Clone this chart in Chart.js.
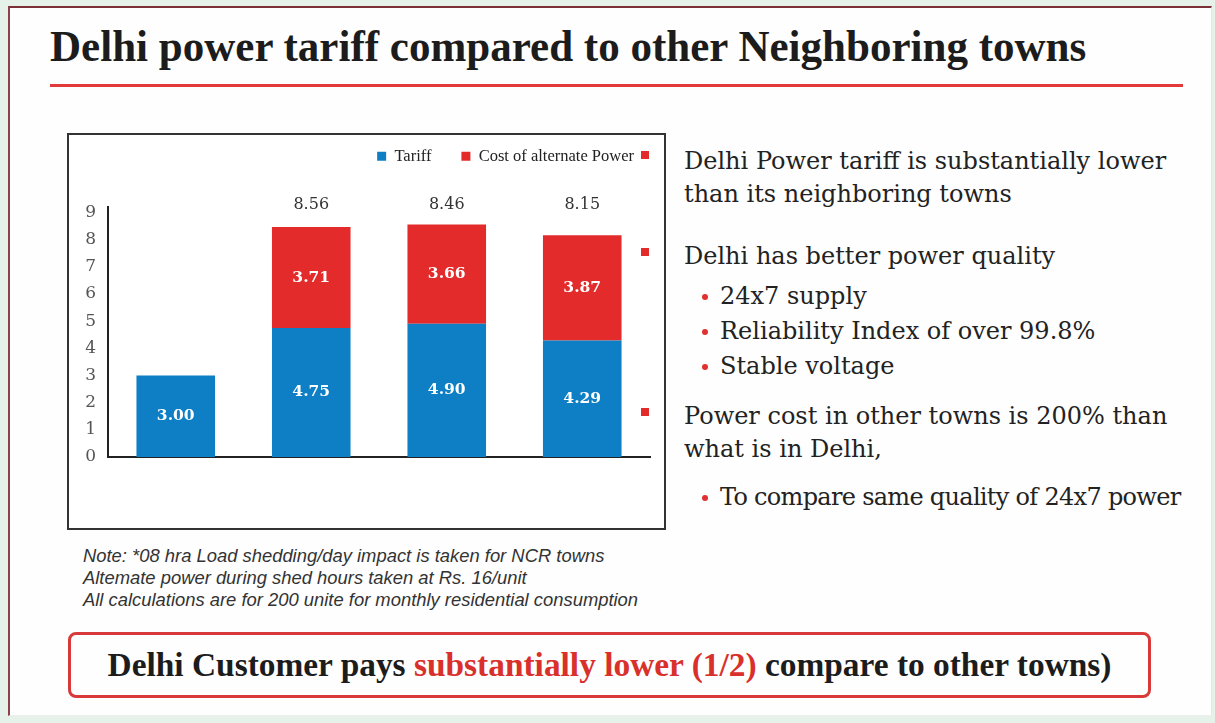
<!DOCTYPE html>
<html lang="en">
<head>
    <meta charset="UTF-8">
    <title>Delhi power tariff compared to other Neighboring towns</title>
    <script src="https://cdn.jsdelivr.net/npm/chart.js"></script>
    <style>
        body {
            margin: 0;
            width: 1215px;
            height: 723px;
            overflow: hidden;
            background: #e6f1ea;
            font-family: "Liberation Serif", serif;
        }
        .slide {
            position: absolute;
            left: 8px;
            top: 6px;
            width: 1204px;
            height: 710px;
            background: #fefefe;
            border-top: 2px solid #7a3036;
            border-left: 2px solid #8c4249;
            border-right: 1px solid #efe2e2;
            border-bottom: 1px solid #eeeeee;
            box-sizing: border-box;
        }
        .abs { position: absolute; white-space: nowrap; }
        .title {
            left: 50px;
            top: 25px;
            font-size: 44px;
            line-height: 1;
            font-weight: bold;
            color: #1c1c1c;
            transform-origin: left top;
            transform: scaleX(0.978);
        }
        .rule {
            left: 50px;
            top: 84px;
            width: 1133px;
            height: 3px;
            background: #e23a3a;
        }
        .chartBox {
            left: 67px;
            top: 133px;
            width: 599px;
            height: 397px;
            border: 2px solid #333;
            box-sizing: border-box;
            background: #fff;
        }
        .chartWrap {
            left: 69px;
            top: 135px;
            width: 595px;
            height: 393px;
        }
        .mark {
            width: 8px;
            height: 8px;
            background: #e32b2b;
        }
        .txt {
            left: 684px;
            font-family: "DejaVu Serif", serif;
            font-size: 24px;
            line-height: 33px;
            color: #222;
        }
        .bul {
            left: 720px;
            font-family: "DejaVu Serif", serif;
            font-size: 24px;
            line-height: 35px;
            color: #222;
        }
        .bul div { position: relative; }
        .bul div::before {
            content: "";
            position: absolute;
            left: -18px;
            top: 15px;
            width: 6px;
            height: 6px;
            border-radius: 50%;
            background: #e03030;
        }
        .note {
            left: 83px;
            top: 545px;
            font-family: "Liberation Sans", Arial, sans-serif;
            font-style: italic;
            font-size: 18.4px;
            line-height: 22px;
            color: #333;
        }
        .bottomBox {
            left: 68px;
            top: 632px;
            width: 1083px;
            height: 66px;
            border: 3px solid #d83a3a;
            border-radius: 8px;
            box-sizing: border-box;
        }
        .bottomText {
            left: 68px;
            width: 1083px;
            top: 648px;
            text-align: center;
            font-size: 33.4px;
            line-height: 34px;
            font-weight: bold;
            color: #1c1c1c;
        }
        .bottomText span { color: #d9302c; }
    </style>
</head>
<body>
<div class="slide"></div>

<div class="abs title" id="title">Delhi power tariff compared to other Neighboring towns</div>
<div class="abs rule"></div>

<div class="abs chartBox"></div>
<div class="abs chartWrap"><canvas id="tariffChart"></canvas></div>
<div class="abs mark" style="left:641px; top:151px;"></div>
<div class="abs mark" style="left:641px; top:248px;"></div>
<div class="abs mark" style="left:641px; top:408px;"></div>

<div class="abs txt" style="top:145px;">Delhi Power tariff is substantially lower<br>than its neighboring towns</div>
<div class="abs txt" style="top:240px;">Delhi has better power quality</div>
<div class="abs bul" style="top:279px;">
    <div>24x7 supply</div>
    <div>Reliability Index of over 99.8%</div>
    <div>Stable voltage</div>
</div>
<div class="abs txt" style="top:400px;">Power cost in other towns is 200% than<br>what is in Delhi,</div>
<div class="abs bul" style="top:480px; letter-spacing:-0.7px;">
    <div>To compare same quality of 24x7 power</div>
</div>

<div class="abs note">Note: *08 hra Load shedding/day impact is taken for NCR towns<br>Altemate power during shed hours taken at Rs. 16/unit<br>All calculations are for 200 unite for monthly residential consumption</div>

<div class="abs bottomBox"></div>
<div class="abs bottomText">Delhi Customer pays <span>substantially lower (1/2)</span> compare to other towns)</div>

<script>
    // data
    const towns = ['Delhi', 'NCR town 1', 'NCR town 2', 'NCR town 3'];
    const tariff = [3.00, 4.75, 4.90, 4.29];
    const altCost = [null, 3.71, 3.66, 3.87];
    const totalLabels = ['', '8.56', '8.46', '8.15'];
    const yTicks = [0, 1, 2, 3, 4, 5, 6, 7, 8, 9];

    const blue = '#0e7fc4';
    const red = '#e32b2b';

    // value labels inside the bars and totals on top
    const barLabels = {
        id: 'barLabels',
        afterDatasetsDraw(chart) {
            const ctx = chart.ctx;
            ctx.save();
            ctx.textAlign = 'center';
            ctx.textBaseline = 'middle';
            ctx.font = 'bold 15.5px "DejaVu Serif"';
            ctx.fillStyle = '#fff';
            [0, 1].forEach(d => {
                const meta = chart.getDatasetMeta(d);
                meta.data.forEach((bar, i) => {
                    const v = chart.data.datasets[d].data[i];
                    if (v == null) return;
                    ctx.fillText(v.toFixed(2), bar.x, (bar.y + bar.base) / 2);
                });
            });
            ctx.font = '16px "DejaVu Serif"';
            ctx.fillStyle = '#333';
            const y = chart.scales.y.getPixelForValue(9.27);
            chart.getDatasetMeta(0).data.forEach((bar, i) => {
                ctx.fillText(totalLabels[i], bar.x, y);
            });
            ctx.restore();
        }
    };

    // extra room under the legend
    const legendSpace = {
        id: 'legendSpace',
        afterInit(chart) {
            const fit = chart.legend.fit;
            chart.legend.fit = function () {
                fit.call(this);
                this.height = 89;
            };
        }
    };

    const ctx = document.getElementById('tariffChart').getContext('2d');
    const tariffChart = new Chart(ctx, {
        type: 'bar',
        data: {
            labels: towns,
            datasets: [{
                label: 'Tariff',
                data: tariff,
                backgroundColor: blue
            }, {
                label: 'Cost of alternate Power',
                data: altCost,
                backgroundColor: red
            }]
        },
        options: {
            responsive: true,
            maintainAspectRatio: false,
            animation: false,
            barPercentage: 0.58,
            categoryPercentage: 1,
            layout: { padding: { top: -17, right: 0, bottom: 71, left: 0 } },
            plugins: {
                legend: {
                    position: 'top',
                    align: 'end',
                    labels: {
                        boxWidth: 9,
                        boxHeight: 9,
                        padding: 30,
                        color: '#222',
                        font: { family: 'Liberation Serif', size: 16.5 }
                    }
                },
                tooltip: { enabled: false }
            },
            scales: {
                x: {
                    stacked: true,
                    grid: { display: false },
                    border: { color: '#222', width: 2 },
                    ticks: { display: false },
                    afterFit(scale) { scale.height = 0; }
                },
                y: {
                    stacked: true,
                    min: 0,
                    max: 9.2,
                    grid: { display: false, drawTicks: false },
                    border: { color: '#222', width: 2 },
                    ticks: {
                        color: '#555',
                        padding: 12,
                        font: { family: 'DejaVu Serif', size: 17 }
                    },
                    afterBuildTicks(scale) {
                        scale.ticks = yTicks.map(v => ({ value: v }));
                    },
                    afterFit(scale) { scale.width = 39; }
                },
                // empty axis, only keeps a gap on the right of the plot
                gap: {
                    position: 'right',
                    grid: { display: false, drawTicks: false },
                    border: { display: false },
                    ticks: { display: false },
                    afterFit(scale) { scale.width = 14; }
                }
            }
        },
        plugins: [barLabels, legendSpace]
    });
</script>
</body>
</html>
